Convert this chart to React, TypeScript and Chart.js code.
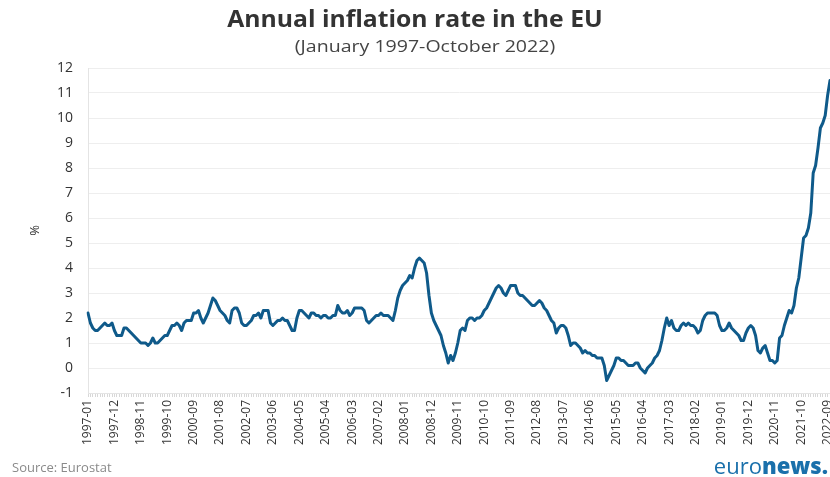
import React, { useEffect, useRef } from "react";
import { Chart, registerables } from "chart.js";

Chart.register(...registerables);

// ---- data (annual inflation rate, %, monthly) ----
const START_YEAR = 1997;
const v1997 = [2.2, 1.8, 1.6, 1.5, 1.5, 1.6, 1.7, 1.8, 1.7, 1.7, 1.8, 1.5];
const v1998 = [1.3, 1.3, 1.3, 1.6, 1.6, 1.5, 1.4, 1.3, 1.2, 1.1, 1.0, 1.0];
const v1999 = [1.0, 0.9, 1.0, 1.2, 1.0, 1.0, 1.1, 1.2, 1.3, 1.3, 1.5, 1.7];
const v2000 = [1.7, 1.8, 1.7, 1.5, 1.8, 1.9, 1.9, 1.9, 2.2, 2.2, 2.3, 2.0];
const v2001 = [1.8, 2.0, 2.2, 2.5, 2.8, 2.7, 2.5, 2.3, 2.2, 2.1, 1.9, 1.8];
const v2002 = [2.3, 2.4, 2.4, 2.2, 1.8, 1.7, 1.7, 1.8, 1.9, 2.1, 2.1, 2.2];
const v2003 = [2.0, 2.3, 2.3, 2.3, 1.8, 1.7, 1.8, 1.9, 1.9, 2.0, 1.9, 1.9];
const v2004 = [1.7, 1.5, 1.5, 2.0, 2.3, 2.3, 2.2, 2.1, 2.0, 2.2, 2.2, 2.1];
const v2005 = [2.1, 2.0, 2.1, 2.1, 2.0, 2.0, 2.1, 2.1, 2.5, 2.3, 2.2, 2.2];
const v2006 = [2.3, 2.1, 2.2, 2.4, 2.4, 2.4, 2.4, 2.3, 1.9, 1.8, 1.9, 2.0];
const v2007 = [2.1, 2.1, 2.2, 2.1, 2.1, 2.1, 2.0, 1.9, 2.3, 2.8, 3.1, 3.3];
const v2008 = [3.4, 3.5, 3.7, 3.6, 4.0, 4.3, 4.4, 4.3, 4.2, 3.8, 2.9, 2.2];
const v2009 = [1.9, 1.7, 1.5, 1.3, 0.9, 0.6, 0.2, 0.5, 0.3, 0.6, 1.0, 1.5];
const v2010 = [1.6, 1.5, 1.9, 2.0, 2.0, 1.9, 2.0, 2.0, 2.1, 2.3, 2.4, 2.6];
const v2011 = [2.8, 3.0, 3.2, 3.3, 3.2, 3.0, 2.9, 3.1, 3.3, 3.3, 3.3, 3.0];
const v2012 = [2.9, 2.9, 2.8, 2.7, 2.6, 2.5, 2.5, 2.6, 2.7, 2.6, 2.4, 2.3];
const v2013 = [2.1, 1.9, 1.8, 1.4, 1.6, 1.7, 1.7, 1.6, 1.3, 0.9, 1.0, 1.0];
const v2014 = [0.9, 0.8, 0.6, 0.7, 0.6, 0.6, 0.5, 0.5, 0.4, 0.4, 0.4, 0.1];
const v2015 = [-0.5, -0.3, -0.1, 0.1, 0.4, 0.4, 0.3, 0.3, 0.2, 0.1, 0.1, 0.1];
const v2016 = [0.2, 0.2, 0.0, -0.1, -0.2, 0.0, 0.1, 0.2, 0.4, 0.5, 0.7, 1.1];
const v2017 = [1.6, 2.0, 1.7, 1.9, 1.6, 1.5, 1.5, 1.7, 1.8, 1.7, 1.8, 1.7];
const v2018 = [1.7, 1.6, 1.4, 1.5, 1.9, 2.1, 2.2, 2.2, 2.2, 2.2, 2.1, 1.7];
const v2019 = [1.5, 1.5, 1.6, 1.8, 1.6, 1.5, 1.4, 1.3, 1.1, 1.1, 1.4, 1.6];
const v2020 = [1.7, 1.6, 1.3, 0.7, 0.6, 0.8, 0.9, 0.6, 0.3, 0.3, 0.2, 0.3];
const v2021 = [1.2, 1.3, 1.7, 2.0, 2.3, 2.2, 2.5, 3.2, 3.6, 4.4, 5.2, 5.3];
const v2022 = [5.6, 6.2, 7.8, 8.1, 8.8, 9.6, 9.8, 10.1, 10.9, 11.5];

const yearlySeries = [
  v1997, v1998, v1999, v2000, v2001, v2002, v2003, v2004, v2005,
  v2006, v2007, v2008, v2009, v2010, v2011, v2012, v2013, v2014,
  v2015, v2016, v2017, v2018, v2019, v2020, v2021, v2022,
];

const inflation: number[] = [];
const monthLabels: string[] = [];
yearlySeries.forEach((vals, yi) => {
  vals.forEach((v, mi) => {
    inflation.push(v);
    monthLabels.push(`${START_YEAR + yi}-${String(mi + 1).padStart(2, "0")}`);
  });
});

const LABEL_EVERY = 11; // a tick label every 11 months
const Y_MIN = -1;
const Y_MAX = 12;

const TITLE = "Annual inflation rate in the EU";
const SUBTITLE = "(January 1997-October 2022)";
const SOURCE = "Source: Eurostat";
const Y_TITLE = "%";

const LINE_COLOR = "#0f5a8a";
const FONT = "'Open Sans', 'Noto Sans', sans-serif";

export default function App() {
  const ref = useRef<HTMLCanvasElement | null>(null);

  useEffect(() => {
    if (!ref.current) return;
    const chart = new Chart(ref.current, {
      type: "line",
      data: {
        labels: monthLabels,
        datasets: [
          {
            data: inflation,
            borderColor: LINE_COLOR,
            borderWidth: 3,
            pointRadius: 0,
            tension: 0,
            fill: false,
            borderJoinStyle: "round",
            borderCapStyle: "round",
          },
        ],
      },
      options: {
        animation: false,
        responsive: false,
        maintainAspectRatio: false,
        layout: { padding: { top: 68, right: 0, bottom: 0, left: 0 } },
        plugins: {
          legend: { display: false },
          tooltip: { enabled: false },
          title: { display: false },
        },
        scales: {
          x: {
            offset: false,
            grid: {
              display: true,
              drawOnChartArea: false,
              drawTicks: true,
              tickLength: 4,
              color: "#d8d8d8",
            },
            border: { display: true, color: "#e4e4e4" },
            ticks: {
              autoSkip: false,
              maxRotation: 90,
              minRotation: 90,
              padding: 3,
              color: "#333",
              font: { family: FONT, size: 12 },
              callback: (_v: any, i: number) =>
                i % LABEL_EVERY === 0 ? monthLabels[i] : "",
            },
            afterFit: (s: any) => {
              s.height = 84;
              s.paddingLeft = 0;
              s.paddingRight = 0;
            },
          },
          y: {
            min: Y_MIN,
            max: Y_MAX,
            ticks: {
              stepSize: 1,
              padding: 15,
              color: "#333",
              font: { family: FONT, size: 14 },
            },
            grid: { color: "#eeeeee", drawTicks: false },
            border: { display: true, color: "#e4e4e4" },
            title: {
              display: true,
              text: Y_TITLE,
              color: "#333",
              font: { family: FONT, size: 13 },
              padding: { top: 27, bottom: 0 },
            },
            afterFit: (s: any) => {
              s.width = 88;
            },
          },
        },
      },
    });
    return () => chart.destroy();
  }, []);

  return (
    <div
      style={{
        position: "fixed",
        left: 0,
        top: 0,
        width: 830,
        height: 477,
        background: "#fff",
        overflow: "hidden",
        fontFamily: FONT,
      }}
    >
      <canvas
        ref={ref}
        width={830}
        height={477}
        style={{ position: "absolute", left: 0, top: 0, width: 830, height: 477 }}
      />
      <div
        style={{
          position: "absolute",
          left: 0,
          width: 830,
          top: 1,
          textAlign: "center",
          fontSize: 24,
          fontWeight: 700,
          color: "#333",
          transform: "scaleX(1.03)",
          transformOrigin: "416px 0",
          whiteSpace: "nowrap",
        }}
      >
        {TITLE}
      </div>
      <div
        style={{
          position: "absolute",
          left: 10,
          width: 830,
          top: 34,
          textAlign: "center",
          fontSize: 17,
          color: "#444",
          transform: "scaleX(1.15)",
          transformOrigin: "415px 0",
          whiteSpace: "nowrap",
        }}
      >
        {SUBTITLE}
      </div>
      <div
        style={{
          position: "absolute",
          left: 12,
          top: 458,
          fontSize: 13,
          color: "#8a8a8a",
        }}
      >
        {SOURCE}
      </div>
      <div
        style={{
          position: "absolute",
          right: 2,
          top: 450,
          fontSize: 22,
          color: "#1a70ab",
          whiteSpace: "nowrap",
        }}
      >
        <span style={{ fontWeight: 400 }}>euro</span>
        <span style={{ fontWeight: 800 }}>news.</span>
      </div>
    </div>
  );
}
